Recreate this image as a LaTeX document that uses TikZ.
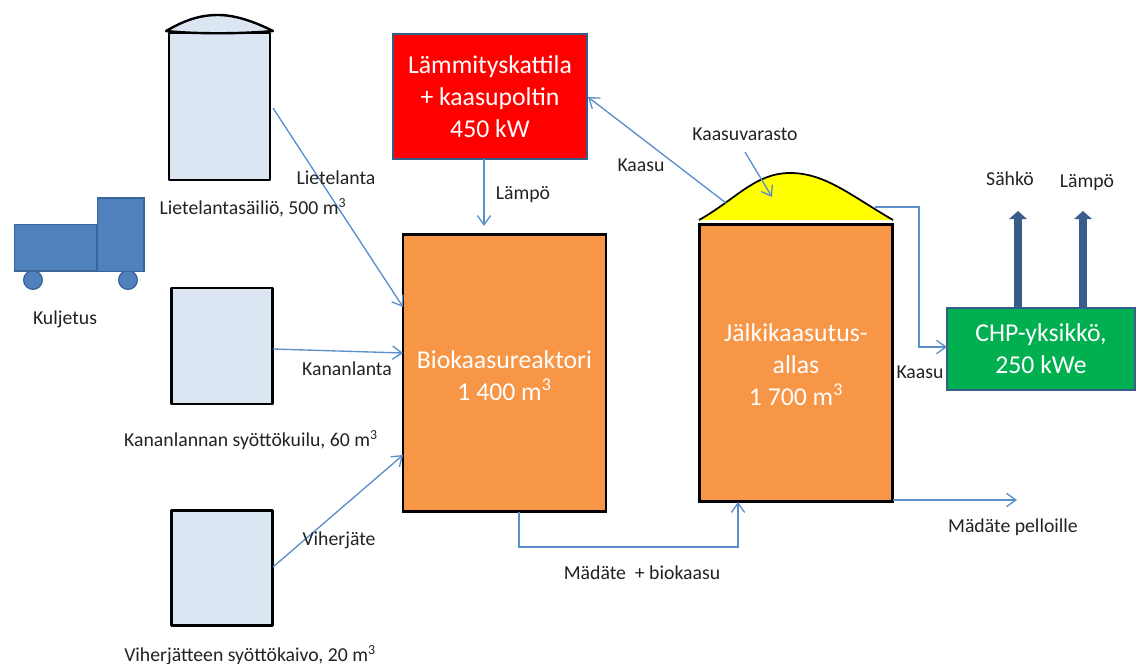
\documentclass[tikz,border=0pt]{standalone}
\usepackage{fontspec}
\setmainfont{Carlito}
\usetikzlibrary{arrows.meta}
\definecolor{flow}{HTML}{5B8FC9}
\definecolor{tankfill}{HTML}{DCE6F2}
\definecolor{orangefill}{HTML}{F79646}
\definecolor{truckfill}{HTML}{4F81BD}
\definecolor{truckline}{HTML}{3A659B}
\definecolor{frameblue}{HTML}{385D8A}
\definecolor{greenfill}{HTML}{00B050}
\definecolor{storeyellow}{rgb}{1,1,0}
\definecolor{boilerred}{rgb}{1,0,0}
\definecolor{txt}{HTML}{222222}
\tikzset{
 x=0.75pt,y=-0.75pt,
 every node/.style={inner sep=0pt,outer sep=0pt,font=\fontsize{14.8}{17}\selectfont,text=txt},
 tank/.style={draw=black,line width=1.8pt,fill=tankfill,line join=round},
 bigtext/.style={text=white,align=center,font=\fontsize{19.3}{24}\selectfont},
 reactor/.style={draw=black,line width=1.8pt,fill=orangefill},
 heatbox/.style={draw=frameblue,line width=1.5pt,bigtext},
 truckpart/.style={draw=truckline,line width=1pt,fill=truckfill},
 flowline/.style={draw=flow,line width=1pt,-{Straight Barb[length=7pt,width=10pt,line width=1pt]}},
 power/.style={draw=frameblue,line width=5.5pt,-{Triangle[length=6pt,width=13pt]}},
}
\begin{document}
\begin{tikzpicture}
\useasboundingbox (0,0) rectangle (1136,664);
% tanks
\node[tank,minimum width=76pt,minimum height=110pt] (t1) at (219.5,106.5) {};
\path[tank] (166,31) .. controls (185,20) and (200,15) .. (218,15) .. controls (236,15) and (255,22) .. (273,31) .. controls (240,34) and (195,34) .. (166,31) -- cycle;
\node[tank,minimum width=76pt,minimum height=87pt] (t2) at (222,346) {};
\node[tank,minimum width=76pt,minimum height=86pt] (t3) at (222,568) {};
% truck
\node[truckpart,circle,minimum width=14pt] (w1) at (33,280) {};
\node[truckpart,circle,minimum width=14pt] (w2) at (128,280) {};
\node[truckpart,minimum width=62pt,minimum height=35pt] (bed) at (55.5,247.5) {};
\node[truckpart,minimum width=35pt,minimum height=55pt] (cab) at (120.5,234.5) {};
% boxes
\node[heatbox,fill=boilerred,minimum width=145pt,minimum height=94pt] (boiler) at (490,96.5) {Lämmityskattila\\+ kaasupoltin\\450 kW};
\node[reactor,minimum width=152pt,minimum height=208pt] (bio) at (504.5,373) {};
\node[bigtext] (biotext) at (504.5,376) {Biokaasureaktori\\1 400 m\textsuperscript{3}};
\node[reactor,minimum width=145pt,minimum height=208pt] (post) at (796,363) {};
\node[bigtext] (posttext) at (796,365) {Jälkikaasutus-\\allas\\1 700 m\textsuperscript{3}};
\fill[storeyellow] (699,220) .. controls (735,200) and (755,173) .. (790,173) .. controls (825,173) and (850,195) .. (893,220) -- cycle;
\draw[black,line width=1.3pt] (699,220) .. controls (735,200) and (755,173) .. (790,173) .. controls (825,173) and (850,195) .. (893,220);
\node[heatbox,fill=greenfill,minimum width=141pt,minimum height=61pt] (chp) at (1041,349) {CHP-yksikkö,\\250 kWe};
% coordinates
\coordinate (a1) at (273,108);
\coordinate (a2) at (273,349);
\coordinate (a3) at (273,567);
\coordinate (bioA) at (403,307);
\coordinate (bioB) at (403,353);
\coordinate (bioC) at (403,455);
\coordinate (heatS) at (484,159);
\coordinate (heatE) at (484,226);
\coordinate (gasS) at (726,203);
\coordinate (gasE) at (588,97);
\coordinate (storeS) at (745,152);
\coordinate (storeE) at (772,197);
\coordinate (g1) at (875,207);
\coordinate (g2) at (919,207);
\coordinate (g3) at (919,347);
\coordinate (gE) at (947,347);
\coordinate (m1) at (519,512);
\coordinate (m2) at (519,547);
\coordinate (m3) at (738,547);
\coordinate (mE) at (738,502);
\coordinate (fS) at (893,500);
\coordinate (fE) at (1017,500);
\coordinate (p1) at (1018,307);
\coordinate (p1E) at (1018,211);
\coordinate (p2) at (1083,307);
\coordinate (p2E) at (1083,211);
% connectors
\draw[flowline] (a1) -- (bioA);
\draw[flowline] (a2) -- (bioB);
\draw[flowline] (a3) -- (bioC);
\draw[flowline] (heatS) -- (heatE);
\draw[flowline] (gasS) -- (gasE);
\draw[flowline] (storeS) -- (storeE);
\draw[flowline] (g1) -- (g2) -- (g3) -- (gE);
\draw[flowline] (m1) -- (m2) -- (m3) -- (mE);
\draw[flowline] (fS) -- (fE);
\draw[power] (p1) -- (p1E);
\draw[power] (p2) -- (p2E);
% labels
\node (l1) at (336,178) {Lietelanta};
\node (l2) at (253,208) {Lietelantasäiliö, 500 m\textsuperscript{3}};
\node (l3) at (65,319) {Kuljetus};
\node (l4) at (347,369) {Kananlanta};
\node (l5) at (251,440) {Kananlannan syöttökuilu, 60 m\textsuperscript{3}};
\node (l6) at (339,540) {Viherjäte};
\node (l7) at (250,655) {Viherjätteen syöttökaivo, 20 m\textsuperscript{3}};
\node (l8) at (523,195) {Lämpö};
\node (l9) at (641,165) {Kaasu};
\node (l10) at (745,134) {Kaasuvarasto};
\node (l11) at (1010,179) {Sähkö};
\node (l12) at (1087,183) {Lämpö};
\node (l13) at (920,372) {Kaasu};
\node (l14) at (1013,527) {Mädäte pelloille};
\node (l15) at (642,573) {Mädäte~ + biokaasu};
\end{tikzpicture}
\end{document}
